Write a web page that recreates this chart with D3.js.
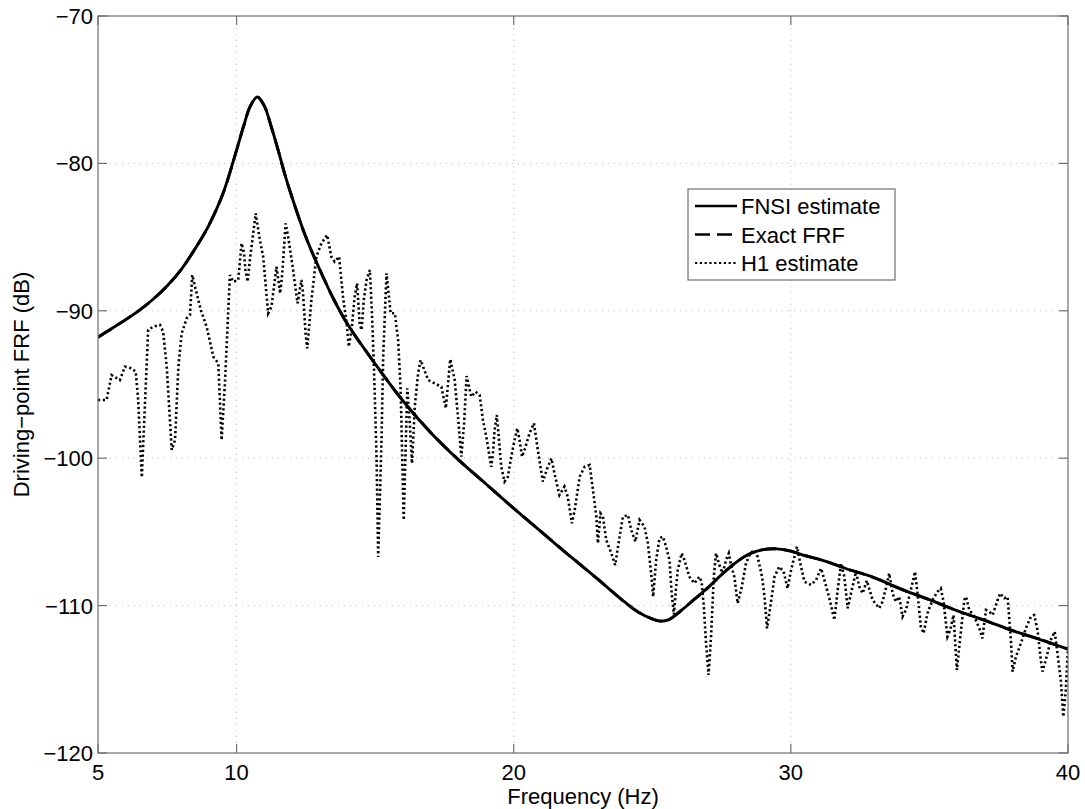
<!DOCTYPE html>
<html>
<head>
<meta charset="utf-8">
<script src="https://cdn.jsdelivr.net/npm/d3@7"></script>
<style>
  html, body { margin: 0; padding: 0; background: #fff; }
  svg { display: block; font-family: "Liberation Sans", Arial, Helvetica, sans-serif; }
</style>
</head>
<body>
<svg id="chart" width="1085" height="809"></svg>
<script>
// ---------------- DATA ----------------
const xTicks = [5, 10, 20, 30, 40];
const yTicks = [-120, -110, -100, -90, -80, -70];
const xGrid = [10, 20, 30];
const yGrid = [-110, -100, -90, -80];

const seriesNames = ["FNSI estimate", "Exact FRF", "H1 estimate"];

const fnsiFreq = [5.0, 5.5, 6.0, 6.5, 7.0, 7.5, 8.0, 8.5, 9.0, 9.5, 10.0, 10.25, 10.5, 10.75, 11.0, 11.25, 11.5, 11.75, 12.0, 12.5, 13.0, 13.5, 14.0, 15.0, 16.0, 17.0, 18.0, 19.0, 20.0, 21.0, 22.0, 23.0, 24.0, 24.5, 25.0, 25.3, 25.6, 26.0, 26.5, 27.0, 27.5, 28.0, 28.5, 29.0, 29.5, 30.0, 30.5, 31.0, 31.5, 32.0, 33.0, 34.0, 35.0, 36.0, 37.0, 38.0, 39.0, 40.0];
const fnsiDb = [-91.8, -91.2, -90.6, -89.95, -89.2, -88.3, -87.2, -85.8, -84.2, -82.1, -79.1, -77.5, -76.1, -75.5, -76.1, -77.5, -79.1, -80.8, -82.3, -85.0, -87.2, -89.2, -90.9, -93.6, -96.1, -98.25, -100.1, -101.75, -103.4, -105.0, -106.6, -108.15, -109.75, -110.45, -110.9, -111.05, -110.95, -110.4, -109.6, -108.8, -107.9, -107.1, -106.5, -106.2, -106.15, -106.3, -106.6, -106.85, -107.15, -107.5, -108.1, -108.9, -109.6, -110.35, -111.0, -111.7, -112.3, -112.95];

const exactFreq = [5.0, 5.5, 6.0, 6.5, 7.0, 7.5, 8.0, 8.5, 9.0, 9.5, 10.0, 10.25, 10.5, 10.75, 11.0, 11.25, 11.5, 11.75, 12.0, 12.5, 13.0, 13.5, 14.0, 15.0, 16.0, 17.0, 18.0, 19.0, 20.0, 21.0, 22.0, 23.0, 24.0, 24.5, 25.0, 25.3, 25.6, 26.0, 26.5, 27.0, 27.5, 28.0, 28.5, 29.0, 29.5, 30.0, 30.5, 31.0, 31.5, 32.0, 33.0, 34.0, 35.0, 36.0, 37.0, 38.0, 39.0, 40.0];
const exactDb = [-91.8, -91.2, -90.6, -89.95, -89.2, -88.3, -87.2, -85.8, -84.2, -82.1, -79.1, -77.5, -76.1, -75.5, -76.1, -77.5, -79.1, -80.8, -82.3, -85.0, -87.2, -89.2, -90.9, -93.6, -96.1, -98.25, -100.1, -101.75, -103.4, -105.0, -106.6, -108.15, -109.75, -110.45, -110.9, -111.05, -110.95, -110.4, -109.6, -108.8, -107.9, -107.1, -106.5, -106.2, -106.15, -106.3, -106.6, -106.85, -107.15, -107.5, -108.1, -108.9, -109.6, -110.35, -111.0, -111.7, -112.3, -112.95];

const h1Freq = [5.0, 5.31, 5.49, 5.79, 5.97, 6.21, 6.36, 6.45, 6.58, 6.81, 6.99, 7.24, 7.35, 7.48, 7.66, 7.78, 7.90, 8.02, 8.20, 8.32, 8.40, 8.50, 8.71, 8.92, 9.16, 9.34, 9.46, 9.58, 9.76, 9.88, 10.06, 10.18, 10.27, 10.32, 10.40, 10.48, 10.69, 10.84, 10.96, 11.14, 11.26, 11.44, 11.50, 11.57, 11.65, 11.77, 11.86, 12.04, 12.20, 12.28, 12.34, 12.40, 12.49, 12.55, 12.70, 12.88, 13.06, 13.27, 13.42, 13.54, 13.70, 13.84, 13.97, 14.05, 14.15, 14.26, 14.35, 14.44, 14.51, 14.59, 14.69, 14.81, 14.89, 14.96, 15.05, 15.11, 15.23, 15.29, 15.41, 15.56, 15.71, 15.83, 15.92, 16.03, 16.16, 16.25, 16.33, 16.43, 16.55, 16.64, 16.91, 17.39, 17.55, 17.71, 17.87, 18.01, 18.11, 18.21, 18.30, 18.47, 18.62, 18.77, 18.89, 19.01, 19.13, 19.19, 19.25, 19.31, 19.39, 19.46, 19.55, 19.67, 19.79, 19.91, 20.03, 20.13, 20.21, 20.30, 20.39, 20.57, 20.73, 20.87, 21.05, 21.21, 21.36, 21.47, 21.65, 21.83, 21.95, 22.10, 22.20, 22.38, 22.56, 22.74, 22.86, 22.98, 23.04, 23.13, 23.22, 23.34, 23.52, 23.66, 23.82, 23.94, 24.12, 24.24, 24.39, 24.54, 24.72, 24.84, 24.96, 25.03, 25.14, 25.26, 25.38, 25.50, 25.62, 25.70, 25.78, 25.86, 25.92, 26.06, 26.16, 26.34, 26.52, 26.70, 26.78, 26.86, 26.94, 27.03, 27.12, 27.22, 27.30, 27.42, 27.54, 27.66, 27.76, 27.84, 27.96, 28.08, 28.23, 28.38, 28.54, 28.68, 28.80, 28.96, 29.05, 29.14, 29.26, 29.41, 29.58, 29.74, 29.88, 30.01, 30.22, 30.34, 30.49, 30.73, 30.91, 31.09, 31.21, 31.39, 31.57, 31.69, 31.81, 31.93, 32.05, 32.17, 32.35, 32.47, 32.59, 32.74, 32.95, 33.19, 33.31, 33.47, 33.55, 33.67, 33.79, 33.91, 34.03, 34.15, 34.33, 34.48, 34.57, 34.69, 34.79, 34.93, 35.11, 35.29, 35.41, 35.51, 35.65, 35.75, 35.87, 35.99, 36.14, 36.26, 36.32, 36.44, 36.62, 36.80, 36.91, 37.04, 37.16, 37.28, 37.46, 37.55, 37.70, 37.82, 37.94, 38.00, 38.12, 38.30, 38.48, 38.66, 38.78, 38.90, 39.02, 39.08, 39.20, 39.38, 39.52, 39.62, 39.74, 39.83, 39.92, 40.0];
const h1Db = [-96.05, -96.05, -94.36, -94.70, -93.79, -93.90, -94.13, -96.05, -101.3, -91.30, -91.08, -90.96, -91.42, -93.79, -99.44, -98.77, -93.79, -91.53, -90.51, -90.28, -87.57, -88.36, -89.95, -91.08, -93.11, -93.56, -98.77, -94.92, -87.57, -88.03, -87.91, -85.42, -86.10, -87.23, -88.03, -86.55, -83.39, -85.20, -86.33, -90.17, -89.72, -87.01, -87.80, -88.82, -87.46, -84.07, -84.97, -87.23, -89.49, -88.59, -87.91, -88.82, -91.53, -92.55, -89.27, -86.33, -85.42, -84.86, -86.33, -86.67, -86.33, -89.04, -90.85, -92.43, -91.30, -89.04, -88.14, -90.85, -91.30, -89.27, -87.91, -87.23, -90.40, -94.02, -99.90, -106.7, -98.77, -93.11, -87.46, -90.17, -90.17, -91.98, -95.37, -104.2, -95.26, -97.63, -100.35, -96.50, -94.24, -93.34, -94.69, -95.15, -96.61, -93.29, -94.69, -97.63, -99.90, -97.63, -94.42, -95.83, -95.49, -95.71, -97.41, -98.54, -99.90, -100.58, -99.67, -98.09, -97.07, -98.54, -100.58, -101.59, -101.26, -99.90, -98.77, -97.97, -98.77, -99.90, -99.44, -98.31, -97.63, -99.44, -101.59, -100.69, -100.01, -101.03, -102.50, -101.93, -102.61, -104.42, -103.51, -101.26, -100.58, -100.46, -102.16, -103.97, -105.77, -103.74, -103.97, -105.55, -106.45, -107.25, -105.32, -103.97, -103.85, -104.87, -105.66, -104.19, -104.65, -105.77, -107.81, -109.40, -106.91, -105.43, -105.32, -106.00, -106.91, -109.17, -110.6, -108.72, -107.58, -106.45, -106.91, -108.04, -108.49, -108.04, -108.38, -110.07, -112.56, -114.7, -112.11, -108.04, -106.45, -107.25, -107.81, -106.91, -106.45, -107.25, -108.04, -109.85, -108.72, -107.13, -106.45, -106.23, -106.68, -108.04, -109.40, -111.54, -110.07, -108.04, -107.36, -107.70, -108.83, -107.58, -106.00, -107.13, -108.38, -108.60, -108.26, -107.47, -108.26, -109.50, -110.98, -108.94, -107.13, -108.04, -110.18, -109.17, -107.70, -108.72, -109.17, -108.3, -109.62, -110.18, -109.73, -108.49, -107.81, -109.17, -109.73, -109.40, -110.75, -110.30, -108.94, -107.70, -109.17, -111.43, -111.88, -110.52, -109.62, -109.06, -108.83, -109.73, -112.11, -111.66, -110.64, -114.37, -111.66, -109.62, -109.40, -110.30, -110.75, -111.54, -112.22, -110.30, -110.41, -110.64, -109.62, -109.17, -109.50, -109.40, -112.33, -114.48, -113.47, -112.56, -111.54, -110.75, -110.64, -111.66, -113.69, -114.48, -113.69, -112.33, -111.77, -113.24, -115.05, -117.54, -115.73, -112.8];

// ---------------- CHART ----------------
const svg = d3.select("#chart");
const L = 98, R = 1068, T = 16, B = 753;
const x = d3.scaleLinear().domain([5, 40]).range([L, R]);
const y = d3.scaleLinear().domain([-120, -70]).range([B, T]);
const axisColor = "#6f6f6f";
const fontSize = 22;

// grid
const grid = svg.append("g");
grid.selectAll("line.gx").data(xGrid).join("line")
  .attr("x1", d => x(d)).attr("x2", d => x(d)).attr("y1", T).attr("y2", B)
  .attr("stroke", "#bdbdbd").attr("stroke-width", 1).attr("stroke-dasharray", "1,5");
grid.selectAll("line.gy").data(yGrid).join("line")
  .attr("x1", L).attr("x2", R).attr("y1", d => y(d)).attr("y2", d => y(d))
  .attr("stroke", "#bdbdbd").attr("stroke-width", 1).attr("stroke-dasharray", "1,5");

// data lines
const toPts = (fs, vs) => fs.map((f, i) => [f, vs[i]]);
const smooth = d3.line().x(d => x(d[0])).y(d => y(d[1])).curve(d3.curveCatmullRom.alpha(0.5));
const straight = d3.line().x(d => x(d[0])).y(d => y(d[1]));

svg.append("clipPath").attr("id", "plotclip")
  .append("rect").attr("x", L).attr("y", T).attr("width", R - L).attr("height", B - T);
const plot = svg.append("g").attr("clip-path", "url(#plotclip)");

plot.append("path").datum(toPts(h1Freq, h1Db)).attr("d", straight)
  .attr("fill", "none").attr("stroke", "#000").attr("stroke-width", 2.6)
  .attr("stroke-dasharray", "2.2,2.6");
plot.append("path").datum(toPts(fnsiFreq, fnsiDb)).attr("d", smooth)
  .attr("fill", "none").attr("stroke", "#000").attr("stroke-width", 2.9);
plot.append("path").datum(toPts(exactFreq, exactDb)).attr("d", smooth)
  .attr("fill", "none").attr("stroke", "#000").attr("stroke-width", 2.9)
  .attr("stroke-dasharray", "16,7");

// axes box
svg.append("rect").attr("x", L).attr("y", T).attr("width", R - L).attr("height", B - T)
  .attr("fill", "none").attr("stroke", axisColor).attr("stroke-width", 1.2);

// ticks (inward, both sides)
const tk = 9;
const ticks = svg.append("g").attr("stroke", axisColor).attr("stroke-width", 1.2);
ticks.selectAll("line.yl").data(yTicks).join("line")
  .attr("x1", L).attr("x2", L + tk).attr("y1", d => y(d)).attr("y2", d => y(d));
ticks.selectAll("line.yr").data(yTicks).join("line")
  .attr("x1", R).attr("x2", R - tk).attr("y1", d => y(d)).attr("y2", d => y(d));
ticks.selectAll("line.xb").data(xTicks).join("line")
  .attr("x1", d => x(d)).attr("x2", d => x(d)).attr("y1", B).attr("y2", B - tk);
ticks.selectAll("line.xt").data(xTicks).join("line")
  .attr("x1", d => x(d)).attr("x2", d => x(d)).attr("y1", T).attr("y2", T + tk);

// tick labels
const fmt = d3.format("d");
svg.append("g").selectAll("text").data(yTicks).join("text")
  .attr("x", L - 5).attr("y", d => y(d)).attr("dy", "0.36em")
  .attr("text-anchor", "end").attr("font-size", fontSize).attr("fill", "#000")
  .text(d => fmt(d));
svg.append("g").selectAll("text").data(xTicks).join("text")
  .attr("x", d => x(d)).attr("y", 780)
  .attr("text-anchor", "middle").attr("font-size", fontSize).attr("fill", "#000")
  .text(d => fmt(d));

// axis labels
svg.append("text").attr("x", (L + R) / 2).attr("y", 804)
  .attr("text-anchor", "middle").attr("font-size", fontSize).attr("fill", "#000")
  .text("Frequency (Hz)");
svg.append("text").attr("transform", `translate(29,${(T + B) / 2}) rotate(-90)`)
  .attr("text-anchor", "middle").attr("font-size", fontSize).attr("fill", "#000")
  .text("Driving\u2212point FRF (dB)");

// legend
const lg = svg.append("g");
lg.append("rect").attr("x", 688).attr("y", 189).attr("width", 207).attr("height", 91)
  .attr("fill", "#fff").attr("stroke", axisColor).attr("stroke-width", 1.2);
const dashes = [null, "15,7", "2.2,2.6"];
const widths = [2.4, 2.4, 2.2];
seriesNames.forEach((name, i) => {
  const yy = 206 + i * 28.5;
  lg.append("line").attr("x1", 695).attr("x2", 737).attr("y1", yy).attr("y2", yy)
    .attr("stroke", "#000").attr("stroke-width", widths[i])
    .attr("stroke-dasharray", dashes[i]);
  lg.append("text").attr("x", 741).attr("y", yy + 8)
    .attr("font-size", fontSize).attr("fill", "#000").text(name);
});
</script>
</body>
</html>
